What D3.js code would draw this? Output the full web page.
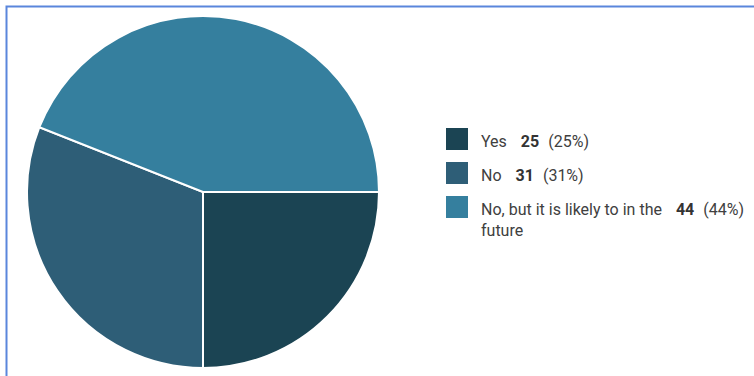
<!DOCTYPE html>
<html>
<head>
<meta charset="utf-8">
<script src="https://cdn.jsdelivr.net/npm/d3@7"></script>
<style>
  body { margin: 0; background: #fff; }
  svg { display: block; font-family: Roboto, "Noto Sans", sans-serif; }
</style>
</head>
<body>
<svg id="chart" width="754" height="376"></svg>
<script>
const categories = ['Yes', 'No', 'No, but it is likely to in the future'];
const labelLines = [['Yes'], ['No'], ['No, but it is likely to in the', 'future']];
const counts = [25, 31, 44];
const percents = ['25%', '31%', '44%'];
const colors = ['#1b4453', '#2e5e77', '#357f9e'];

const width = 754, height = 376;
const cx = 203, cy = 192, radius = 176;

const svg = d3.select('#chart');

// frame
svg.append('rect')
  .attr('x', 6.5).attr('y', 6.5)
  .attr('width', width).attr('height', height)
  .attr('fill', 'none')
  .attr('stroke', '#5a86dc')
  .attr('stroke-width', 2);

const pie = d3.pie().sort(null)
  .startAngle(Math.PI / 2)
  .endAngle(Math.PI / 2 + 2 * Math.PI);
const arc = d3.arc().innerRadius(0).outerRadius(radius);

const g = svg.append('g').attr('transform', `translate(${cx},${cy})`);
g.selectAll('path')
  .data(pie(counts))
  .join('path')
  .attr('d', arc)
  .attr('fill', (d, i) => colors[i])
  .attr('stroke', '#fff')
  .attr('stroke-width', 2);

// legend
const legendY = d3.scaleBand().domain(categories).range([128, 230]).paddingInner(0);
const legend = svg.append('g');
const items = legend.selectAll('g')
  .data(categories)
  .join('g')
  .attr('transform', d => `translate(446,${legendY(d)})`);

items.append('rect')
  .attr('width', 22).attr('height', 22)
  .attr('fill', (d, i) => colors[i]);

const fs = 16;
items.each(function (d, i) {
  const it = d3.select(this);
  const t = it.append('text')
    .attr('x', 35).attr('y', 18.5)
    .attr('font-size', fs).attr('fill', '#404040');
  labelLines[i].forEach((line, k) => {
    t.append('tspan').attr('x', 35).attr('dy', k === 0 ? 0 : 21).text(line);
  });
  const firstLen = t.select('tspan').node().getComputedTextLength();
  const v = it.append('text')
    .attr('x', 35 + firstLen + 14).attr('y', 18.5)
    .attr('font-size', fs).attr('font-weight', 'bold').attr('fill', '#333')
    .text(counts[i]);
  const vLen = v.node().getComputedTextLength();
  it.append('text')
    .attr('x', 35 + firstLen + 14 + vLen + 9).attr('y', 18.5)
    .attr('font-size', fs).attr('fill', '#404040')
    .text(`(${percents[i]})`);
});
</script>
</body>
</html>
